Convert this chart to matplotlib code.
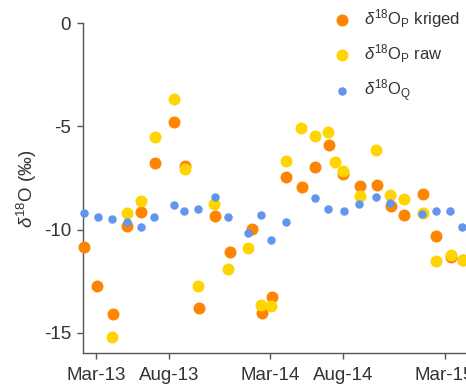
import numpy as np
import pandas as pd
import matplotlib
matplotlib.use("Agg")
import matplotlib.pyplot as plt
import matplotlib.dates as mdates

plt.rcParams['font.family'] = ['Liberation Sans', 'DejaVu Sans']
plt.rcParams['mathtext.fontset'] = 'custom'
plt.rcParams['mathtext.rm'] = 'Liberation Sans'
plt.rcParams['mathtext.it'] = 'Liberation Sans:italic'
plt.rcParams['axes.unicode_minus'] = False

# d18O of precipitation, kriged
kriged_dates = ['2013-02-05', '2013-03-04', '2013-04-05', '2013-05-06', '2013-06-04',
                '2013-07-03', '2013-08-12', '2013-09-04', '2013-10-02', '2013-11-06',
                '2013-12-07', '2014-01-22', '2014-02-12', '2014-03-04', '2014-04-03',
                '2014-05-06', '2014-06-02', '2014-07-02', '2014-08-01', '2014-09-05',
                '2014-10-10', '2014-11-08', '2014-12-06', '2015-01-16', '2015-02-12',
                '2015-03-14', '2015-04-09']
kriged_vals = [-10.83, -12.75, -14.08, -9.85, -9.17,
               -6.75, -4.79, -6.94, -13.82, -9.32,
               -11.07, -9.99, -14.04, -13.29, -7.46,
               -7.93, -6.99, -5.89, -7.30, -7.88,
               -7.86, -8.85, -9.30, -8.30, -10.30,
               -11.33, -11.50]

# d18O of precipitation, raw
raw_dates = ['2013-04-04', '2013-05-05', '2013-06-04', '2013-07-02', '2013-08-12',
             '2013-09-03', '2013-09-30', '2013-11-04', '2013-12-03', '2014-01-14',
             '2014-02-10', '2014-03-03', '2014-04-03', '2014-05-05', '2014-06-02',
             '2014-07-01', '2014-07-14', '2014-07-31', '2014-09-05', '2014-10-09',
             '2014-11-07', '2014-12-06', '2015-01-15', '2015-02-12', '2015-03-14',
             '2015-04-09']
raw_vals = [-15.19, -9.20, -8.61, -5.49, -3.67,
            -7.07, -12.75, -8.74, -11.91, -10.88,
            -13.64, -13.70, -6.67, -5.07, -5.46,
            -5.26, -6.73, -7.14, -8.36, -6.12,
            -8.31, -8.52, -9.20, -11.54, -11.24,
            -11.49]

# d18O of streamflow
q_dates = ['2013-02-04', '2013-03-05', '2013-04-04', '2013-05-06', '2013-06-04',
           '2013-07-01', '2013-08-11', '2013-09-02', '2013-09-30', '2013-11-05',
           '2013-12-03', '2014-01-14', '2014-02-10', '2014-03-03', '2014-04-03',
           '2014-06-02', '2014-07-01', '2014-08-02', '2014-09-04', '2014-10-09',
           '2014-11-07', '2015-01-13', '2015-02-11', '2015-03-12', '2015-04-07']
q_vals = [-9.20, -9.39, -9.49, -9.61, -9.90,
          -9.39, -8.80, -9.09, -8.99, -8.40,
          -9.39, -10.18, -9.29, -10.49, -9.61,
          -8.47, -8.99, -9.09, -8.78, -8.40,
          -8.69, -9.27, -9.09, -9.09, -9.90]

tick_dates = ['2013-03-01', '2013-08-01', '2014-03-01', '2014-08-01', '2015-03-01']

fig = plt.figure(figsize=(4.66, 3.91), dpi=100)
ax = fig.add_axes([0.179, 0.0964, 0.821, 0.844])

ax.scatter(pd.to_datetime(kriged_dates), kriged_vals, s=58, color='#FF8500',
           label=r'$\delta^{18}\mathrm{O}_\mathrm{P}$ kriged', clip_on=False, zorder=3)
ax.scatter(pd.to_datetime(raw_dates), raw_vals, s=58, color='#FFD400',
           label=r'$\delta^{18}\mathrm{O}_\mathrm{P}$ raw', clip_on=False, zorder=4)
ax.scatter(pd.to_datetime(q_dates), q_vals, s=26, color='#6495ED',
           label=r'$\delta^{18}\mathrm{O}_\mathrm{Q}$', clip_on=False, zorder=5)

ax.set_xlim(pd.Timestamp('2013-02-03'), pd.Timestamp('2015-04-15'))
ax.set_ylim(-16, 0)
ax.set_yticks([0, -5, -10, -15])
ax.set_xticks(pd.to_datetime(tick_dates))
ax.xaxis.set_major_formatter(mdates.DateFormatter('%b-%y'))

for s in ['top', 'right']:
    ax.spines[s].set_visible(False)
for s in ['left', 'bottom']:
    ax.spines[s].set_color('#555555')
    ax.spines[s].set_linewidth(1.0)
ax.tick_params(axis='both', colors='#555555', labelcolor='#333333',
               labelsize=13.5, length=4, width=1.0)
ax.tick_params(axis='x', pad=6)
ax.tick_params(axis='y', pad=5)

ax.set_ylabel(r'$\delta^{18}\mathrm{O}$ (‰)', fontsize=13.5, color='#333333', labelpad=3)

leg = ax.legend(loc='upper left', bbox_to_anchor=(0.681, 1.003), bbox_transform=fig.transFigure,
                frameon=False, fontsize=12, labelspacing=0.75, handletextpad=0.3,
                borderpad=0, scatterpoints=1)
for t in leg.get_texts():
    t.set_color('#333333')

fig.savefig('out.png', dpi=100)
